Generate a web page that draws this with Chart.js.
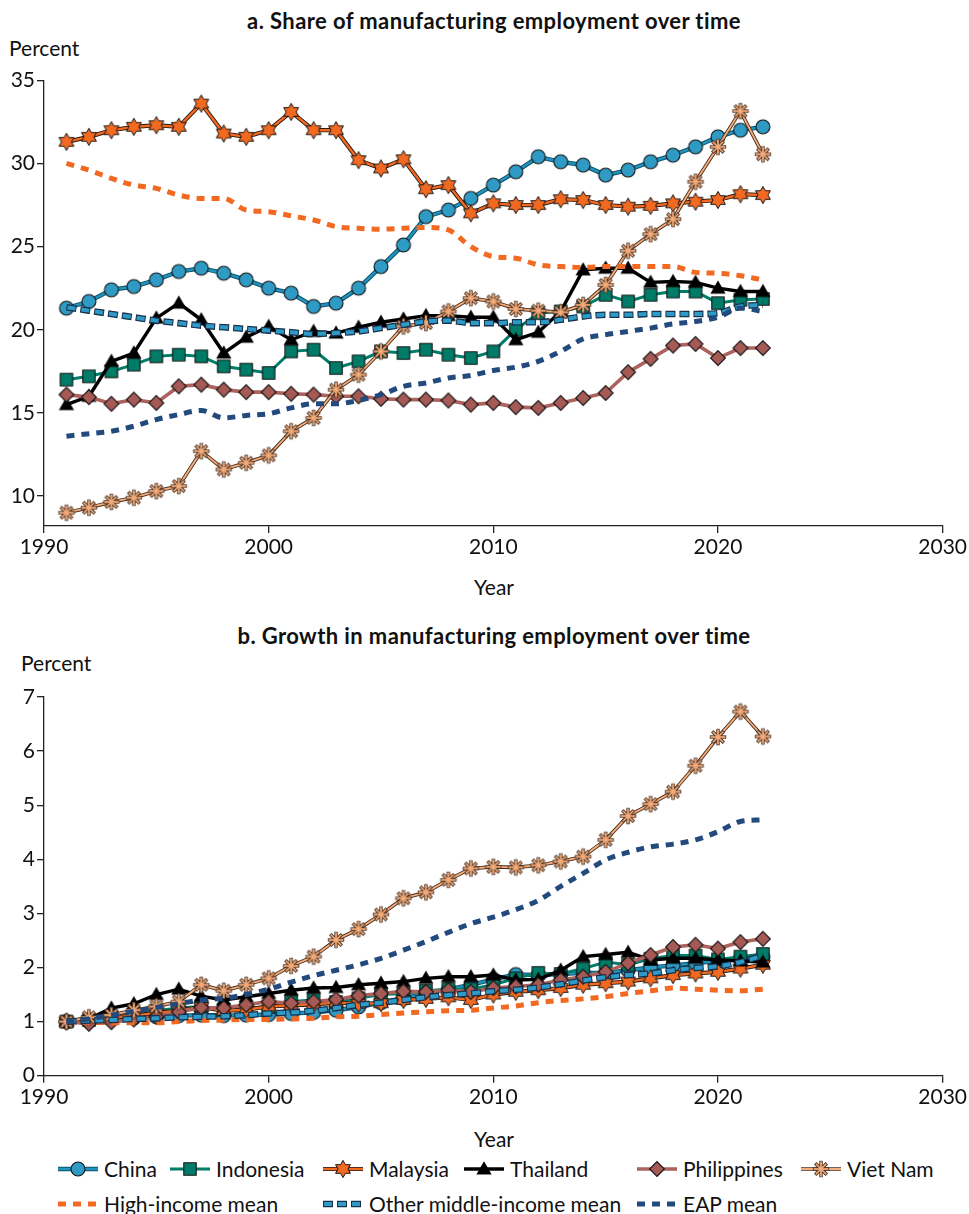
<!DOCTYPE html>
<html>
<head>
<meta charset="utf-8">
<script src="https://cdn.jsdelivr.net/npm/chart.js@4.4.1/dist/chart.umd.min.js"></script>
<style>
  body { margin: 0; background: #fff; width: 969px; height: 1214px; position: relative; overflow: hidden;
         font-family: Lato, "Open Sans", sans-serif; color: #111; }
  .t { position: absolute; white-space: nowrap; line-height: 1.2; font-size: 21px; }
  .title { font-weight: 700; font-size: 22px; letter-spacing: 0.4px; left: 44px; width: 900px; text-align: center; }
  canvas.chart { position: absolute; left: 0; }
  .lg { position: absolute; display: flex; align-items: center; height: 24px; }
  .lg canvas { margin-right: 6px; }
  .lg span { font-size: 21px; line-height: 24px; white-space: nowrap; }
</style>
</head>
<body>
<div class="t title" style="top:8px">a. Share of manufacturing employment over time</div>
<div class="t" style="left:9px; top:35px">Percent</div>
<canvas id="shareChart" class="chart" width="969" height="570" style="top:0"></canvas>
<div class="t" style="left:0; width:988px; text-align:center; top:574px">Year</div>

<div class="t title" style="top:623px">b. Growth in manufacturing employment over time</div>
<div class="t" style="left:21px; top:650px">Percent</div>
<canvas id="growthChart" class="chart" width="969" height="520" style="top:600px"></canvas>
<div class="t" style="left:0; width:988px; text-align:center; top:1126px">Year</div>

<div id="legend"></div>

<script>
// ---- data ----
const years = [1991, 1992, 1993, 1994, 1995, 1996, 1997, 1998, 1999, 2000, 2001, 2002, 2003, 2004, 2005, 2006,
               2007, 2008, 2009, 2010, 2011, 2012, 2013, 2014, 2015, 2016, 2017, 2018, 2019, 2020, 2021, 2022];

// Panel a: share of manufacturing employment (percent)
const shareChina       = [21.3, 21.7, 22.4, 22.6, 23.0, 23.5, 23.7, 23.4, 23.0, 22.5, 22.2, 21.4, 21.6, 22.5, 23.8, 25.1,
                          26.8, 27.2, 27.9, 28.7, 29.5, 30.4, 30.1, 29.9, 29.3, 29.6, 30.1, 30.5, 31.0, 31.6, 32.0, 32.2];
const shareIndonesia   = [17.0, 17.2, 17.5, 17.9, 18.4, 18.5, 18.4, 17.8, 17.6, 17.4, 18.7, 18.8, 17.7, 18.1, 18.7, 18.6,
                          18.8, 18.5, 18.3, 18.7, 20.0, 21.0, 21.1, 21.4, 22.1, 21.7, 22.1, 22.3, 22.3, 21.6, 21.8, 21.85];
const shareMalaysia    = [31.3, 31.6, 32.0, 32.2, 32.3, 32.2, 33.6, 31.8, 31.6, 32.0, 33.1, 32.0, 32.0, 30.2, 29.7, 30.25,
                          28.45, 28.7, 27.0, 27.6, 27.5, 27.5, 27.85, 27.8, 27.5, 27.4, 27.45, 27.6, 27.7, 27.8, 28.15, 28.1];
const shareThailand    = [15.5, 16.0, 18.1, 18.6, 20.7, 21.6, 20.6, 18.6, 19.55, 20.2, 19.4, 19.9, 19.8, 20.15, 20.45, 20.65,
                          20.85, 20.85, 20.75, 20.75, 19.4, 19.85, 21.1, 23.6, 23.7, 23.7, 22.85, 22.9, 22.85, 22.5, 22.3, 22.3];
const sharePhilippines = [16.1, 15.95, 15.55, 15.8, 15.6, 16.6, 16.7, 16.4, 16.25, 16.25, 16.15, 16.1, 16.0, 16.0, 15.85, 15.8,
                          15.8, 15.75, 15.5, 15.6, 15.35, 15.3, 15.6, 15.9, 16.2, 17.45, 18.25, 19.05, 19.15, 18.3, 18.9, 18.9];
const shareVietNam     = [9.0, 9.3, 9.65, 9.9, 10.3, 10.6, 12.7, 11.6, 12.0, 12.45, 13.9, 14.7, 16.4, 17.3, 18.7, 20.2,
                          20.4, 21.1, 21.9, 21.7, 21.25, 21.15, 21.05, 21.5, 22.7, 24.75, 25.75, 26.65, 28.9, 31.0, 33.15, 30.55];
const shareHighIncome  = [30.0, 29.6, 29.1, 28.7, 28.5, 28.1, 27.9, 27.9, 27.2, 27.1, 26.85, 26.6, 26.2, 26.1, 26.05, 26.1,
                          26.15, 26.0, 25.0, 24.4, 24.3, 23.9, 23.8, 23.75, 23.8, 23.8, 23.8, 23.8, 23.45, 23.4, 23.25, 23.0];
const shareOtherMiddle = [21.35, 21.15, 20.95, 20.75, 20.55, 20.4, 20.25, 20.15, 20.05, 19.95, 19.85, 19.75, 19.8, 19.9, 20.1, 20.3,
                          20.5, 20.55, 20.4, 20.4, 20.45, 20.45, 20.6, 20.8, 20.9, 20.9, 20.95, 20.95, 20.95, 21.0, 21.4, 21.5];
const shareEAP         = [13.6, 13.75, 13.9, 14.2, 14.6, 14.9, 15.15, 14.7, 14.85, 14.95, 15.3, 15.55, 15.55, 15.75, 16.1, 16.6,
                          16.8, 17.1, 17.25, 17.55, 17.75, 18.1, 18.7, 19.45, 19.7, 19.9, 20.1, 20.35, 20.5, 20.75, 21.3, 21.1];

// Panel b: growth in manufacturing employment (1991 = 1)
const growthChina       = [1.0, 1.02, 1.05, 1.07, 1.09, 1.11, 1.12, 1.11, 1.12, 1.13, 1.15, 1.17, 1.21, 1.27, 1.35, 1.43,
                           1.52, 1.6, 1.68, 1.78, 1.87, 1.86, 1.88, 1.9, 1.9, 1.95, 2.0, 2.04, 2.08, 2.12, 2.17, 2.2];
const growthIndonesia   = [1.0, 1.03, 1.08, 1.13, 1.2, 1.25, 1.28, 1.22, 1.25, 1.27, 1.37, 1.4, 1.36, 1.43, 1.5, 1.52,
                           1.57, 1.6, 1.6, 1.68, 1.8, 1.9, 1.88, 1.98, 2.1, 2.05, 2.16, 2.22, 2.22, 2.15, 2.2, 2.25];
const growthMalaysia    = [1.0, 1.03, 1.07, 1.11, 1.16, 1.2, 1.27, 1.2, 1.22, 1.28, 1.3, 1.32, 1.35, 1.33, 1.34, 1.4,
                           1.42, 1.45, 1.4, 1.5, 1.55, 1.58, 1.62, 1.68, 1.71, 1.74, 1.8, 1.86, 1.89, 1.92, 1.98, 2.05];
const growthThailand    = [1.0, 1.05, 1.25, 1.33, 1.5, 1.6, 1.47, 1.4, 1.46, 1.52, 1.58, 1.62, 1.63, 1.68, 1.71, 1.74,
                           1.8, 1.83, 1.83, 1.86, 1.77, 1.78, 1.95, 2.2, 2.24, 2.28, 2.14, 2.17, 2.17, 2.14, 2.12, 2.1];
const growthPhilippines = [1.0, 0.96, 0.99, 1.04, 1.09, 1.18, 1.26, 1.25, 1.31, 1.37, 1.34, 1.37, 1.41, 1.48, 1.52, 1.56,
                           1.55, 1.58, 1.55, 1.62, 1.65, 1.68, 1.77, 1.83, 1.92, 2.08, 2.23, 2.38, 2.42, 2.35, 2.47, 2.53];
const growthVietNam     = [1.0, 1.08, 1.12, 1.21, 1.28, 1.37, 1.68, 1.57, 1.68, 1.8, 2.03, 2.2, 2.51, 2.71, 2.98, 3.28,
                           3.39, 3.62, 3.83, 3.86, 3.85, 3.89, 3.96, 4.05, 4.36, 4.8, 5.02, 5.25, 5.73, 6.26, 6.73, 6.27];
const growthHighIncome  = [1.0, 0.99, 0.98, 0.98, 0.98, 1.0, 1.02, 1.03, 1.04, 1.04, 1.05, 1.06, 1.09, 1.1, 1.13, 1.16,
                           1.18, 1.2, 1.21, 1.25, 1.29, 1.35, 1.39, 1.42, 1.46, 1.52, 1.57, 1.62, 1.6, 1.58, 1.57, 1.6];
const growthOtherMiddle = [1.0, 1.02, 1.03, 1.05, 1.06, 1.08, 1.09, 1.1, 1.12, 1.15, 1.17, 1.2, 1.25, 1.31, 1.35, 1.4,
                           1.45, 1.49, 1.52, 1.56, 1.59, 1.63, 1.69, 1.76, 1.82, 1.86, 1.89, 1.95, 1.99, 2.02, 2.1, 2.22];
const growthEAP         = [1.0, 1.05, 1.12, 1.19, 1.26, 1.33, 1.4, 1.43, 1.5, 1.6, 1.73, 1.85, 1.95, 2.05, 2.17, 2.32,
                           2.48, 2.65, 2.81, 2.93, 3.07, 3.24, 3.5, 3.74, 3.99, 4.13, 4.23, 4.28, 4.36, 4.51, 4.7, 4.73];

const xTicks = [1990, 2000, 2010, 2020, 2030];
const shareTicks = [10, 15, 20, 25, 30, 35];
const growthTicks = [0, 1, 2, 3, 4, 5, 6, 7];

// ---- marker shapes ----
const INK = '#141414';
function circleMark(ctx, x, y) {
  ctx.beginPath(); ctx.arc(x, y, 7, 0, Math.PI * 2);
  ctx.fillStyle = '#2f9ac4'; ctx.fill(); ctx.lineWidth = 1.1; ctx.strokeStyle = INK; ctx.stroke();
}
function squareMark(ctx, x, y) {
  const s = 6.2; ctx.beginPath(); ctx.rect(x - s, y - s, 2 * s, 2 * s);
  ctx.fillStyle = '#007b68'; ctx.fill(); ctx.lineWidth = 1.1; ctx.strokeStyle = INK; ctx.stroke();
}
function hexagramMark(ctx, x, y) {
  const R = 8.6, r = R / Math.sqrt(3);
  ctx.beginPath();
  for (let k = 0; k < 12; k++) {
    const a = -Math.PI / 2 + k * Math.PI / 6, rr = k % 2 ? r : R;
    ctx.lineTo(x + rr * Math.cos(a), y + rr * Math.sin(a));
  }
  ctx.closePath(); ctx.fillStyle = '#f26a22'; ctx.fill(); ctx.lineWidth = 1; ctx.strokeStyle = INK; ctx.stroke();
}
function triangleMark(ctx, x, y) {
  const R = 8.8; ctx.beginPath();
  for (let k = 0; k < 3; k++) {
    const a = -Math.PI / 2 + k * 2 * Math.PI / 3;
    ctx.lineTo(x + R * Math.cos(a), y + R * Math.sin(a) + 1);
  }
  ctx.closePath(); ctx.fillStyle = '#000'; ctx.fill();
}
function diamondMark(ctx, x, y) {
  const R = 7.4; ctx.beginPath();
  ctx.moveTo(x, y - R); ctx.lineTo(x + R, y); ctx.lineTo(x, y + R); ctx.lineTo(x - R, y); ctx.closePath();
  ctx.fillStyle = '#a65a55'; ctx.fill(); ctx.lineWidth = 1.1; ctx.strokeStyle = INK; ctx.stroke();
}
function asteriskMark(ctx, x, y) {
  const R = 8.2; ctx.lineCap = 'butt';
  const arms = [0, Math.PI / 4, Math.PI / 2, 3 * Math.PI / 4];
  ctx.strokeStyle = '#4a3020'; ctx.lineWidth = 3.4;
  arms.forEach(a => { ctx.beginPath(); ctx.moveTo(x - R * Math.cos(a), y - R * Math.sin(a)); ctx.lineTo(x + R * Math.cos(a), y + R * Math.sin(a)); ctx.stroke(); });
  ctx.strokeStyle = '#f7ae7c'; ctx.lineWidth = 1.7;
  arms.forEach(a => { ctx.beginPath(); ctx.moveTo(x - (R - 0.8) * Math.cos(a), y - (R - 0.8) * Math.sin(a)); ctx.lineTo(x + (R - 0.8) * Math.cos(a), y + (R - 0.8) * Math.sin(a)); ctx.stroke(); });
}
function markerImage(fn) {
  const c = document.createElement('canvas'); c.width = 24; c.height = 24;
  fn(c.getContext('2d'), 12, 12); return c;
}

// ---- series styles ----
const series = [
  { key: 'china',       label: 'China',       line: '#2393bd', edge: '#0d556e', width: 2.4, edgeWidth: 4.4, mark: circleMark },
  { key: 'indonesia',   label: 'Indonesia',   line: '#007d69', width: 3, mark: squareMark },
  { key: 'malaysia',    label: 'Malaysia',    line: '#f26a22', edge: '#2a1a10', width: 2.4, edgeWidth: 4.2, mark: hexagramMark },
  { key: 'thailand',    label: 'Thailand',    line: '#000000', width: 3.4, mark: triangleMark },
  { key: 'philippines', label: 'Philippines', line: '#ac625d', width: 3.6, mark: diamondMark },
  { key: 'vietnam',     label: 'Viet Nam',    line: '#f7ae7c', edge: '#4a3020', width: 1.8, edgeWidth: 3.6, mark: asteriskMark },
  { key: 'high',        label: 'High-income mean',          line: '#f26a22', width: 5, dash: [8, 7], smooth: true },
  { key: 'other',       label: 'Other middle-income mean',  line: '#2e9ac6', edge: '#17314f', width: 4, edgeWidth: 6.6,
                        dash: [8, 6], edgeDash: [10, 4], smooth: true },
  { key: 'eap',         label: 'EAP mean',                  line: '#234a7d', width: 5, dash: [8, 7], smooth: true }
];
series.forEach(s => { if (s.mark) s.img = markerImage(s.mark); });

function points(values) { return years.map((yr, i) => ({ x: yr, y: values[i] })); }

function buildDatasets(valueMap) {
  const out = [];
  series.forEach((s, i) => {
    const data = points(valueMap[s.key]);
    const base = { data, fill: false, clip: false, tension: 0,
                   cubicInterpolationMode: s.smooth ? 'monotone' : 'default' };
    if (s.edge) {
      out.push(Object.assign({}, base, {
        label: s.label + ' outline', borderColor: s.edge, borderWidth: s.edgeWidth,
        borderDash: s.edgeDash || [], pointRadius: 0, order: 40 - 2 * i + 1
      }));
    }
    out.push(Object.assign({}, base, {
      label: s.label, borderColor: s.line, borderWidth: s.width,
      borderDash: s.dash || [], borderDashOffset: s.edgeDash ? -1 : 0,
      pointRadius: s.img ? 8 : 0, pointStyle: s.img || 'circle', pointHoverRadius: 8,
      order: 40 - 2 * i
    }));
  });
  return out;
}

const tickFont = { family: 'Lato', size: 21 };
function makeChart(id, valueMap, yMin, yMax, yTicks, padTop, xHeight) {
  return new Chart(document.getElementById(id), {
    type: 'line',
    data: { datasets: buildDatasets(valueMap) },
    options: {
      responsive: false, animation: false, devicePixelRatio: 1,
      layout: { padding: { top: padTop, right: 25, left: 0, bottom: 0 } },
      plugins: { legend: { display: false }, tooltip: { enabled: false } },
      scales: {
        x: {
          type: 'linear', min: xTicks[0], max: xTicks[xTicks.length - 1],
          afterBuildTicks: sc => { sc.ticks = xTicks.map(v => ({ value: v })); },
          afterFit: sc => { sc.height = xHeight; },
          ticks: { font: tickFont, color: '#111', padding: 2, maxRotation: 0, callback: v => String(v) },
          grid: { drawOnChartArea: false, drawTicks: true, tickLength: 7, color: '#222', lineWidth: 1.3 },
          border: { display: true, color: '#222', width: 1.3 }
        },
        y: {
          min: yMin, max: yMax,
          afterBuildTicks: sc => { sc.ticks = yTicks.map(v => ({ value: v })); },
          afterFit: sc => { sc.width = 44; },
          ticks: { font: tickFont, color: '#111', padding: 2, callback: v => String(v) },
          grid: { drawOnChartArea: false, drawTicks: true, tickLength: 7, color: '#222', lineWidth: 1.3 },
          border: { display: true, color: '#222', width: 1.3 }
        }
      }
    }
  });
}

makeChart('shareChart', {
  china: shareChina, indonesia: shareIndonesia, malaysia: shareMalaysia, thailand: shareThailand,
  philippines: sharePhilippines, vietnam: shareVietNam, high: shareHighIncome, other: shareOtherMiddle, eap: shareEAP
}, 8.2, 35, shareTicks, 80.3, 44);

makeChart('growthChart', {
  china: growthChina, indonesia: growthIndonesia, malaysia: growthMalaysia, thailand: growthThailand,
  philippines: growthPhilippines, vietnam: growthVietNam, high: growthHighIncome, other: growthOtherMiddle, eap: growthEAP
}, 0, 7, growthTicks, 97, 44.3);

// ---- legend ----
const legendSlots = {
  china: [104, 1169], indonesia: [216, 1169], malaysia: [369, 1169], thailand: [510, 1169],
  philippines: [683, 1169], vietnam: [847, 1169],
  high: [104, 1204], other: [369, 1204], eap: [683, 1204]
};
const legendBox = document.getElementById('legend');
series.forEach(s => {
  const [tx, cy] = legendSlots[s.key];
  const item = document.createElement('div');
  item.className = 'lg';
  item.style.left = (tx - 48) + 'px';
  item.style.top = (cy - 12) + 'px';
  const c = document.createElement('canvas'); c.width = 42; c.height = 24;
  const ctx = c.getContext('2d');
  const drawSeg = (color, w, dash, off) => {
    ctx.save(); ctx.strokeStyle = color; ctx.lineWidth = w; ctx.setLineDash(dash || []);
    ctx.lineDashOffset = off || 0; ctx.beginPath(); ctx.moveTo(2, 12); ctx.lineTo(42, 12); ctx.stroke(); ctx.restore();
  };
  if (s.edge) drawSeg(s.edge, s.edgeWidth, s.edgeDash);
  drawSeg(s.line, s.width, s.dash, s.edgeDash ? -1 : 0);
  if (s.mark) s.mark(ctx, 22, 12);
  const t = document.createElement('span'); t.textContent = s.label;
  item.appendChild(c); item.appendChild(t);
  legendBox.appendChild(item);
});
</script>
</body>
</html>
